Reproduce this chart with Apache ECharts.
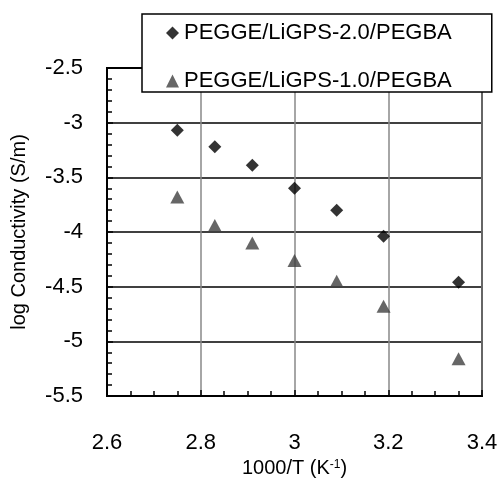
<!DOCTYPE html>
<html>
<head>
<meta charset="utf-8">
<script src="https://cdn.jsdelivr.net/npm/echarts@6/dist/echarts.min.js"></script>
<style>
  html, body { margin: 0; padding: 0; background: #fff; }
  #chart { width: 502px; height: 479px; }
</style>
</head>
<body>
<div id="chart"></div>
<script>
const invT = [2.75, 2.83, 2.91, 3.0, 3.09, 3.19, 3.35]
const logSigma20 = [-3.07, -3.22, -3.39, -3.60, -3.80, -4.04, -4.46]
const logSigma10 = [-3.68, -3.94, -4.10, -4.26, -4.45, -4.68, -5.16]
const seriesNames = ["PEGGE/LiGPS-2.0/PEGBA", "PEGGE/LiGPS-1.0/PEGBA"]

const font = "Liberation Sans, Arial, sans-serif"
const chart = echarts.init(document.getElementById("chart"), null, { renderer: "canvas" })

const pair = (ys) => invT.map((x, i) => [x, ys[i]])

chart.setOption({
  animation: false,
  backgroundColor: "#fff",
  textStyle: { fontFamily: font },
  grid: {
    left: 107, right: 20, top: 68, bottom: 83,
    outerBoundsMode: "none",
    containLabel: false,
    show: true, borderColor: "#000", borderWidth: 2, backgroundColor: "transparent"
  },
  legend: {
    orient: "vertical",
    left: 142, top: 14,
    width: 336,
    padding: [8, 40, 0, 24],
    itemGap: 26,
    itemWidth: 13, itemHeight: 13,
    backgroundColor: "#fff",
    borderColor: "#000",
    borderWidth: 1.5,
    borderRadius: 0,
    textStyle: { fontSize: 22, color: "#000", fontFamily: font },
    data: seriesNames
  },
  xAxis: {
    type: "value",
    min: 2.6, max: 3.4, interval: 0.2,
    name: "1000/T (K{sup|-1})",
    nameLocation: "middle",
    nameGap: 57,
    nameTextStyle: {
      fontSize: 20, color: "#000",
      rich: { sup: { fontSize: 12, verticalAlign: "top", padding: [0, 0, 8, 0], color: "#000" } }
    },
    axisLine: { show: true, lineStyle: { color: "#000", width: 2 } },
    axisTick: { show: true, inside: true, length: 6, lineStyle: { color: "#000", width: 1.5 } },
    minorTick: { show: true, splitNumber: 4, length: 5, lineStyle: { color: "#000", width: 1.5 } },
    axisLabel: { fontSize: 22, color: "#000", margin: 36, formatter: (v) => String(+v.toFixed(1)) },
    splitLine: { show: true, lineStyle: { color: "#888", width: 1.5 } }
  },
  yAxis: {
    type: "value",
    min: -5.5, max: -2.5, interval: 0.5,
    name: "log Conductivity (S/m)",
    nameLocation: "middle",
    nameGap: 78,
    nameTextStyle: { fontSize: 20, color: "#000" },
    axisLine: { show: true, lineStyle: { color: "#000", width: 2 } },
    axisTick: { show: true, inside: true, length: 6, lineStyle: { color: "#000", width: 1.5 } },
    minorTick: { show: true, splitNumber: 5, length: 5, lineStyle: { color: "#000", width: 1.5 } },
    axisLabel: { fontSize: 22, color: "#000", margin: 24, formatter: (v) => String(+v.toFixed(1)) },
    splitLine: { show: true, lineStyle: { color: "#000", width: 1.5 } }
  },
  series: [
    {
      name: seriesNames[0],
      type: "scatter",
      symbol: "diamond",
      symbolSize: [13, 13],
      itemStyle: { color: "#000" },
      data: pair(logSigma20)
    },
    {
      name: seriesNames[1],
      type: "scatter",
      symbol: "triangle",
      symbolSize: [14, 13],
      itemStyle: { color: "#404040" },
      data: pair(logSigma10)
    }
  ]
})
</script>
</body>
</html>
